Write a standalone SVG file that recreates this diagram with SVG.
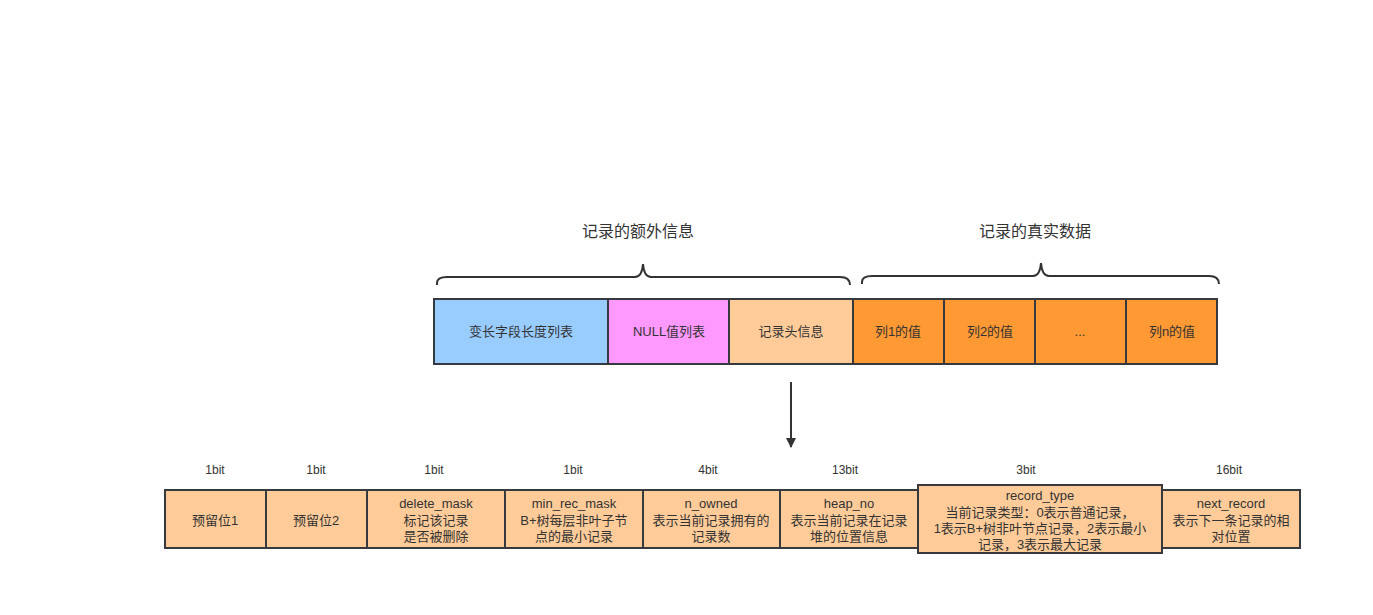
<svg xmlns="http://www.w3.org/2000/svg" width="1373" height="615" viewBox="0 0 1373 615">
<defs>
<style>
text{font-family:"Liberation Sans","Noto Sans CJK SC",sans-serif;fill:#333;text-anchor:middle;dominant-baseline:central}
.c{font-size:13px}
.t{font-size:16px}
.b{font-size:12px}
.blue,.pink,.lo,.or{stroke:#36393d;stroke-width:2}
.blue{fill:#99ccff}.pink{fill:#ff99ff}.lo{fill:#ffcc99}.or{fill:#ff9933}
.br{fill:none;stroke:#333;stroke-width:2}
</style>
<marker id="ah" viewBox="0 0 10 10" refX="9" refY="5" markerWidth="10" markerHeight="14" markerUnits="userSpaceOnUse" orient="auto"><path d="M0,0 L10,5 L0,10 z" fill="#333"/></marker>
</defs>
<rect width="1373" height="615" fill="#fff"/>
<g id="labels">
<text class="t" x="638" y="231">记录的额外信息</text>
<text class="t" x="1035" y="231">记录的真实数据</text>
</g>
<g id="connectors">
<path class="br" d="M437,285 V283 Q437,277 447,277 H635 Q642,277 643,264 Q644,277 651,277 H840 Q850,277 850,285"/>
<path class="br" d="M862,284 V282 Q862,276 872,276 H1033 Q1040,276 1041,263 Q1042,276 1049,276 H1209 Q1219,276 1219,284"/>
<line x1="791" y1="382" x2="791" y2="447" stroke="#333" stroke-width="2" marker-end="url(#ah)"/>
</g>
<g id="top-row">
<g id="n1"><rect class="blue" x="434" y="299" width="174" height="65"/><text class="c" x="521" y="331">变长字段长度列表</text></g>
<g id="n2"><rect class="pink" x="608" y="299" width="121" height="65"/><text class="c" x="669" y="331">NULL值列表</text></g>
<g id="n3"><rect class="lo" x="729" y="299" width="124" height="65"/><text class="c" x="791" y="331">记录头信息</text></g>
<g id="n4"><rect class="or" x="853" y="299" width="91" height="65"/><text class="c" x="898" y="331">列1的值</text></g>
<g id="n5"><rect class="or" x="944" y="299" width="91" height="65"/><text class="c" x="990" y="331">列2的值</text></g>
<g id="n6"><rect class="or" x="1035" y="299" width="91" height="65"/><text class="c" x="1080" y="331">...</text></g>
<g id="n7"><rect class="or" x="1126" y="299" width="91" height="65"/><text class="c" x="1172" y="331">列n的值</text></g>
</g>
<g id="bits">
<text class="b" x="215" y="470">1bit</text>
<text class="b" x="316" y="470">1bit</text>
<text class="b" x="434" y="470">1bit</text>
<text class="b" x="573" y="470">1bit</text>
<text class="b" x="708" y="470">4bit</text>
<text class="b" x="845" y="470">13bit</text>
<text class="b" x="1026" y="470">3bit</text>
<text class="b" x="1229" y="470">16bit</text>
</g>
<g id="bottom-row">
<g id="b1"><rect class="lo" x="165" y="490" width="101" height="58"/><text class="c" x="215" y="520">预留位1</text></g>
<g id="b2"><rect class="lo" x="266" y="490" width="101" height="58"/><text class="c" x="316" y="520">预留位2</text></g>
<g id="b3"><rect class="lo" x="367" y="490" width="138" height="58"/><text class="c" x="436" y="503">delete_mask</text><text class="c" x="436" y="520">标记该记录</text><text class="c" x="436" y="536">是否被删除</text></g>
<g id="b4"><rect class="lo" x="505" y="490" width="138" height="58"/><text class="c" x="574" y="503">min_rec_mask</text><text class="c" x="574" y="520">B+树每层非叶子节</text><text class="c" x="574" y="536">点的最小记录</text></g>
<g id="b5"><rect class="lo" x="643" y="490" width="137" height="58"/><text class="c" x="711" y="503">n_owned</text><text class="c" x="711" y="520">表示当前记录拥有的</text><text class="c" x="711" y="536">记录数</text></g>
<g id="b6"><rect class="lo" x="780" y="490" width="138" height="58"/><text class="c" x="849" y="503">heap_no</text><text class="c" x="849" y="520">表示当前记录在记录</text><text class="c" x="849" y="536">堆的位置信息</text></g>
<g id="b7"><rect class="lo" x="918" y="485" width="244" height="68"/><text class="c" x="1040" y="495">record_type</text><text class="c" x="1040" y="512">当前记录类型：0表示普通记录，</text><text class="c" x="1040" y="528">1表示B+树非叶节点记录，2表示最小</text><text class="c" x="1040" y="544">记录，3表示最大记录</text></g>
<g id="b8"><rect class="lo" x="1162" y="490" width="138" height="58"/><text class="c" x="1231" y="503">next_record</text><text class="c" x="1231" y="520">表示下一条记录的相</text><text class="c" x="1231" y="536">对位置</text></g>
</g>
</svg>
